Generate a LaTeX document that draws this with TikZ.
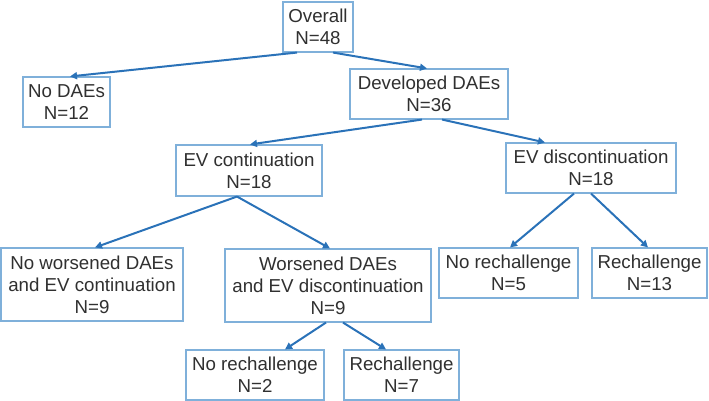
\documentclass[tikz,border=0pt]{standalone}
\usepackage{fontspec}
\setmainfont{Liberation Sans}
\usetikzlibrary{arrows.meta}
\definecolor{boxc}{HTML}{7FB0DA}
\definecolor{arrc}{HTML}{2A72B8}
\definecolor{txtc}{HTML}{303030}
\tikzset{
  box/.style={draw=boxc, line width=1.1pt, fill=white, text=txtc, align=center, inner sep=0pt,
    font=\fontsize{18.7}{22}\selectfont},
  conn/.style={draw=arrc, line width=2pt, -{Triangle[length=7pt,width=7pt]}}
}
\begin{document}
\begin{tikzpicture}[x=1pt,y=1pt]
\useasboundingbox (0,0) rectangle (709,-401);
\node[box, minimum width=70pt, minimum height=50pt] (overall) at (318,-27) {Overall\\N=48};
\node[box, minimum width=87pt, minimum height=50pt] (nodaes) at (66.5,-102) {No DAEs\\N=12};
\node[box, minimum width=158pt, minimum height=50pt] (dev) at (429,-94) {Developed DAEs\\N=36};
\node[box, minimum width=146pt, minimum height=51pt] (evc) at (249,-170.5) {EV continuation\\N=18};
\node[box, minimum width=170pt, minimum height=50pt] (evd) at (591,-168) {EV discontinuation\\N=18};
\node[box, minimum width=182pt, minimum height=73pt] (now) at (92,-284.5) {No worsened DAEs\\and EV continuation\\N=9};
\node[box, minimum width=206pt, minimum height=73pt] (wor) at (328,-285.5) {Worsened DAEs\\and EV discontinuation\\N=9};
\node[box, minimum width=138pt, minimum height=50pt] (nrl) at (255,-375) {No rechallenge\\N=2};
\node[box, minimum width=115pt, minimum height=50pt] (rl) at (401.5,-375) {Rechallenge\\N=7};
\node[box, minimum width=139pt, minimum height=50pt] (nrr) at (508.5,-273) {No rechallenge\\N=5};
\node[box, minimum width=115pt, minimum height=50pt] (rr) at (649.5,-273) {Rechallenge\\N=13};
\draw[conn] ([xshift=-21pt]overall.south) -- ([xshift=3.5pt]nodaes.north);
\draw[conn] ([xshift=15pt]overall.south) -- ([xshift=-2pt]dev.north);
\draw[conn] ([xshift=-7pt]dev.south) -- ([xshift=1pt]evc.north);
\draw[conn] ([xshift=13pt]dev.south) -- ([xshift=-46pt]evd.north);
\draw[conn] ([xshift=-12pt]evc.south) -- ([xshift=3pt]now.north);
\draw[conn] ([xshift=-12pt]evc.south) -- ([xshift=2pt]wor.north);
\draw[conn] ([xshift=-2pt]wor.south) -- ([xshift=30pt]nrl.north);
\draw[conn] ([xshift=15pt]wor.south) -- ([xshift=-15.5pt]rl.north);
\draw[conn] ([xshift=-17pt]evd.south) -- ([xshift=1.5pt]nrr.north);
\draw[conn] ([xshift=0pt]evd.south) -- ([xshift=-1.5pt]rr.north);
\end{tikzpicture}
\end{document}
